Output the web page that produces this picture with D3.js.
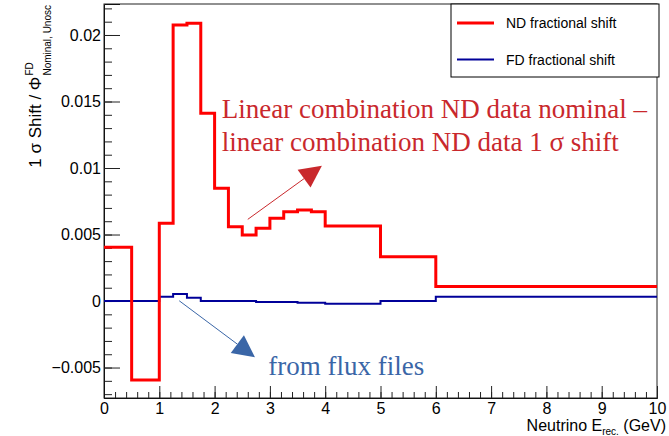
<!DOCTYPE html>
<html>
<head>
<meta charset="utf-8">
<script src="https://cdn.jsdelivr.net/npm/d3@7"></script>
<style>
  body { margin: 0; background: #fff; }
  text { font-family: "Liberation Sans", Arial, sans-serif; }
</style>
</head>
<body>
<svg id="svgShift"></svg>
<script>
// DATA //////////////////////////////////////////////////////////////////////

var binEdges = [0, 0.5, 1, 1.25, 1.5, 1.75, 2, 2.25, 2.5, 2.75, 3, 3.25, 3.5, 3.75, 4, 5, 6, 10];

// ND fractional shift (red)
var ndShift = [0.00404, -0.00594, 0.00584, 0.02075, 0.02088, 0.01411, 0.00847, 0.00559, 0.00496,
               0.00547, 0.00622, 0.00672, 0.00684, 0.00672, 0.00564, 0.00333, 0.00110];

// FD fractional shift (blue)
var fdShift = [0, 0, 0.00033, 0.00053, 0.00025, 0, 0, 0, 0,
               -0.00008, -0.00008, -0.00008, -0.00012, -0.00012, -0.00020, 0, 0.00033];

var xTicks = [0, 1, 2, 3, 4, 5, 6, 7, 8, 9, 10];
var yTicks = [-0.005, 0, 0.005, 0.01, 0.015, 0.02];
var yTickLabels = ["\u22120.005", "0", "0.005", "0.01", "0.015", "0.02"];

var legendLabels = ["ND fractional shift", "FD fractional shift"];
var noteLines = ["Linear combination ND data nominal \u2013", "linear combination ND data 1 \u03c3 shift"];
var fluxNote = "from flux files";

// SETUP /////////////////////////////////////////////////////////////////////

const WIDTH = 669, HEIGHT = 436;
const PLOT_LEFT = 104, PLOT_RIGHT = 657, PLOT_TOP = 4, PLOT_BOTTOM = 398;
const ND_COLOUR = "#ff0000", FD_COLOUR = "#000099";
const NOTE_RED = "#c9282c", NOTE_BLUE = "#3a66a7";

var svg = d3.select("#svgShift")
    .attr("width", WIDTH)
    .attr("height", HEIGHT);

svg.append("rect").attr("width", WIDTH).attr("height", HEIGHT).attr("fill", "#fff");

var x = d3.scaleLinear().domain([0, 10]).range([PLOT_LEFT, PLOT_RIGHT]);
var y = d3.scaleLinear().domain([-0.00729, 0.02233]).range([PLOT_BOTTOM, PLOT_TOP]);

// AXES //////////////////////////////////////////////////////////////////////

// minor x ticks
svg.append("g")
    .attr("transform", "translate(0," + PLOT_BOTTOM + ")")
    .call(d3.axisBottom(x).tickValues(d3.range(0, 10.01, 0.2)).tickSize(-6).tickFormat(""))
    .call(g => g.select(".domain").remove());

var xAxis = svg.append("g")
    .attr("transform", "translate(0," + PLOT_BOTTOM + ")")
    .call(d3.axisBottom(x).tickValues(xTicks).tickSize(-12).tickPadding(5).tickFormat(d3.format("d")));
xAxis.selectAll("text").style("font-size", "16px").attr("fill", "#000");

// minor y ticks
svg.append("g")
    .attr("transform", "translate(" + PLOT_LEFT + ",0)")
    .call(d3.axisLeft(y).tickValues(d3.range(-7, 23).map(function (d) { return d * 0.001; })).tickSize(-8).tickFormat(""))
    .call(g => g.select(".domain").remove());

var yAxis = svg.append("g")
    .attr("transform", "translate(" + PLOT_LEFT + ",0)")
    .call(d3.axisLeft(y).tickValues(yTicks).tickSize(-16).tickPadding(3)
        .tickFormat(function (d, i) { return yTickLabels[i]; }));
yAxis.selectAll("text").style("font-size", "16px").attr("fill", "#000");

svg.selectAll(".tick line").attr("stroke", "#222");

// frame
svg.append("rect")
    .attr("x", x(0)).attr("y", y.range()[1])
    .attr("width", x(10) - x(0)).attr("height", y.range()[0] - y.range()[1])
    .attr("fill", "none").attr("stroke", "#222").attr("stroke-width", 1);

// HISTOGRAMS ////////////////////////////////////////////////////////////////

function stepPoints(values) {
    var pts = [];
    values.forEach(function (v, i) {
        pts.push([binEdges[i], v]);
        pts.push([binEdges[i + 1], v]);
    });
    return pts;
}

var line = d3.line()
    .x(function (d) { return x(d[0]); })
    .y(function (d) { return y(d[1]); });

svg.append("path")
    .attr("d", line(stepPoints(fdShift)))
    .attr("fill", "none").attr("stroke", FD_COLOUR).attr("stroke-width", 2);

svg.append("path")
    .attr("d", line(stepPoints(ndShift)))
    .attr("fill", "none").attr("stroke", ND_COLOUR).attr("stroke-width", 3);

// ANNOTATIONS ///////////////////////////////////////////////////////////////

function drawArrow(x1, y1, x2, y2, colour) {
    var px1 = x(x1), py1 = y(y1), px2 = x(x2), py2 = y(y2);
    var dx = px2 - px1, dy = py2 - py1, len = Math.sqrt(dx * dx + dy * dy);
    var ux = dx / len, uy = dy / len;
    var headLen = 22, headHalf = 11;
    var bx = px2 - ux * headLen, by = py2 - uy * headLen;
    svg.append("line")
        .attr("x1", px1).attr("y1", py1).attr("x2", bx).attr("y2", by)
        .attr("stroke", colour).attr("stroke-width", 1);
    svg.append("polygon")
        .attr("points", [[px2, py2], [bx - uy * headHalf, by + ux * headHalf], [bx + uy * headHalf, by - ux * headHalf]].join(" "))
        .attr("fill", colour);
}

drawArrow(2.6, 0.00614, 3.94, 0.01017, NOTE_RED);
drawArrow(1.36, 0.00002, 2.73, -0.00423, NOTE_BLUE);

svg.append("g").selectAll("text")
    .data(noteLines)
    .enter().append("text")
    .attr("x", x(2.13))
    .attr("y", function (d, i) { return y(0.01374) + i * 33; })
    .style("font-family", "'Liberation Serif', 'Times New Roman', serif")
    .style("font-size", "27px")
    .attr("fill", NOTE_RED)
    .text(function (d) { return d; });

svg.append("text")
    .attr("x", x(2.97))
    .attr("y", y(-0.00556))
    .style("font-family", "'Liberation Serif', 'Times New Roman', serif")
    .style("font-size", "27px")
    .attr("fill", NOTE_BLUE)
    .text(fluxNote);

// LEGEND ////////////////////////////////////////////////////////////////////

var legend = svg.append("g").attr("transform", "translate(451,4)");
legend.append("rect")
    .attr("width", 208).attr("height", 73)
    .attr("fill", "#fff").attr("stroke", "#000").attr("stroke-width", 1);

var legendItems = legend.selectAll(".item")
    .data(legendLabels)
    .enter().append("g")
    .attr("transform", function (d, i) { return "translate(0," + (19 + i * 36.5) + ")"; });

legendItems.append("line")
    .attr("x1", 6).attr("x2", 43)
    .attr("stroke", function (d, i) { return i === 0 ? ND_COLOUR : FD_COLOUR; })
    .attr("stroke-width", function (d, i) { return i === 0 ? 3 : 2; });

legendItems.append("text")
    .attr("x", 55).attr("y", 5)
    .style("font-size", "14px")
    .text(function (d) { return d; });

// AXIS TITLES ///////////////////////////////////////////////////////////////

var xTitle = svg.append("text")
    .attr("x", 666).attr("y", 431)
    .attr("text-anchor", "end")
    .style("font-size", "16px");
xTitle.append("tspan").text("Neutrino E");
xTitle.append("tspan").attr("dy", 4).style("font-size", "10px").text("rec.");
xTitle.append("tspan").attr("dy", -4).text(" (GeV)");

var yTitle = svg.append("g").attr("transform", "translate(41,5) rotate(-90)");
var ySub = yTitle.append("text")
    .attr("x", 0).attr("y", 10)
    .attr("text-anchor", "end")
    .style("font-size", "10px")
    .text("Nominal, Unosc");
var subWidth = ySub.node().getComputedTextLength();
yTitle.append("text")
    .attr("x", -subWidth - 1).attr("y", 0)
    .attr("text-anchor", "end")
    .style("font-size", "17px")
    .text("1 \u03c3 Shift / \u03a6");
yTitle.append("text")
    .attr("x", -subWidth).attr("y", -8)
    .style("font-size", "10px")
    .text("FD");
</script>
</body>
</html>
